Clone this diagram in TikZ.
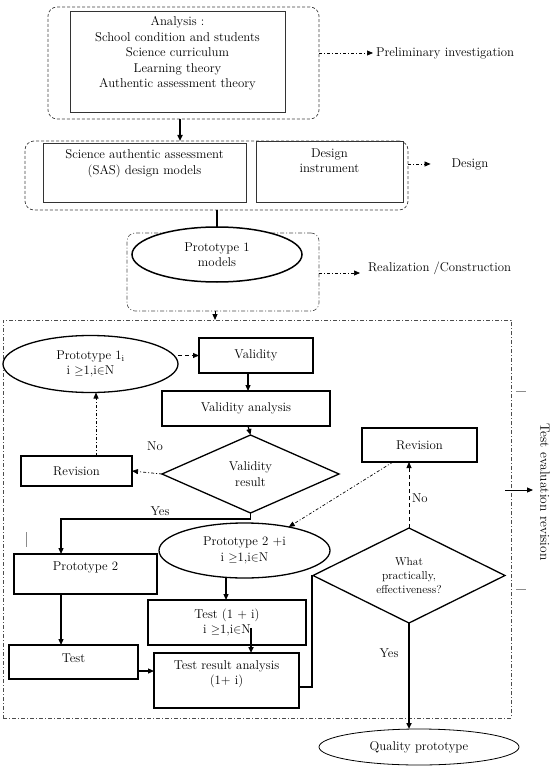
\documentclass[tikz,border=0pt]{standalone}
\usetikzlibrary{arrows.meta,shapes.geometric}
\begin{document}
\begin{tikzpicture}[x=1pt,y=-1pt,
  every node/.style={font=\fontsize{12.8}{15.5}\selectfont, inner sep=0pt, outer sep=0pt},
  txt/.style={align=center},
  gbox/.style={draw=black!80, line width=0.9pt},
  fbox/.style={draw, line width=1.3pt, fill=white},
  dbox/.style={draw=black!75, line width=0.7pt, dash pattern=on 3pt off 2pt, rounded corners=9pt},
  ddbox/.style={draw=black!70, line width=0.6pt, dash pattern=on 4pt off 2pt on 1pt off 2pt, rounded corners=8pt},
  dd/.style={line width=0.7pt, dash pattern=on 3pt off 2pt on 1pt off 2pt},
  dsh/.style={line width=0.8pt, dash pattern=on 4pt off 3pt},
  arr/.style={-{Triangle[length=6pt,width=5pt]}},
  solid1/.style={line width=1.2pt},
  elli/.style={ellipse, draw, fill=white}
]
\useasboundingbox (0,0) rectangle (559,767);

% ---- Preliminary investigation
\node[dbox, minimum width=271pt, minimum height=112pt] (anaO) at (183.5,63) {};
\node[gbox, minimum width=215pt, minimum height=101pt] (anaB) at (177.5,61.5) {};
\node[txt] (anaT) at (177.5,53.5) {Analysis :\\School condition and students\\Science curriculum\\Learning theory\\Authentic assessment theory};
\node[anchor=west] (prelim) at (376,53) {Preliminary investigation};
\draw[dd,arr] (anaO.east |- prelim.west) -- ([xshift=-3pt]prelim.west);

% ---- Design
\node[dbox, minimum width=383pt, minimum height=69pt] (desO) at (216.5,175.5) {};
\node[gbox, minimum width=203pt, minimum height=59pt] (sasB) at (144.5,172.5) {};
\node[txt] (sasT) at (144.5,163.5) {Science authentic assessment\\(SAS) design models};
\node[gbox, minimum width=147pt, minimum height=61pt] (diB) at (329.5,171.5) {};
\node[txt] (diT) at (329.5,160.5) {Design\\instrument};
\node (design) at (470,164) {Design};
\draw[dd,arr] (desO.east |- design.west) -- ([xshift=-21pt]design.west);
\draw[line width=1.8pt,arr] ([xshift=-3.5pt]anaO.south) -- ([xshift=-36.5pt]desO.north);

% ---- Realization
\node[ddbox, minimum width=192pt, minimum height=78pt] (p1O) at (223,272) {};
\node[elli, line width=1.5pt, minimum width=170pt, minimum height=55pt, txt] (P1) at (217,254.5) {Prototype 1\\models};
\draw[line width=2pt] (P1.north |- desO.south) -- (P1.north);
\node[anchor=west] (real) at (368,268) {Realization /Construction};
\draw[dd,arr] ([yshift=-1pt]p1O.east) -- ([xshift=-8pt,yshift=-5pt]real.west);

% ---- Test evaluation revision (big frame)
\node[draw=black!70, line width=0.6pt, dash pattern=on 4pt off 2pt on 1pt off 2pt, minimum width=508pt, minimum height=398pt] (tev) at (257,519) {};
\draw[line width=1pt,arr] ([xshift=-8pt]p1O.south) -- ([xshift=-42pt]tev.north);
\node[rotate=-90, font=\fontsize{13.5}{16}\selectfont] (tevT) at (545,492) {Test evaluation revision};
\coordinate (tevA) at ([xshift=-6pt,yshift=29pt]tev.east);
\coordinate (tevB) at ([xshift=22pt,yshift=29pt]tev.east);
\draw[line width=0.9pt,arr] (tevA) -- (tevB);
\draw[black!45, line width=0.6pt] (516,391) -- (526,391) (516,589) -- (526,589) (26,532) -- (26,547);

% ---- validity loop
\node[elli, line width=1.3pt, minimum width=175pt, minimum height=57pt, txt] (P1i) at (90.5,364) {Prototype 1\textsubscript{i}\\i $\geq$1,i$\in$N};
\node[fbox, minimum width=114pt, minimum height=35pt] (Val) at (256,355.5) {Validity};
\node[fbox, minimum width=168pt, minimum height=35pt] (VA) at (246,408.5) {Validity analysis};
\node[diamond, draw, line width=1.3pt, fill=white, aspect=2.27, minimum width=177pt, minimum height=78pt, txt] (VR) at (250.5,474) {Validity\\result};
\node[fbox, minimum width=111pt, minimum height=30pt] (Rev1) at (76.5,471) {Revision};
\draw[dsh,arr] (P1i.east |- Val.west) -- (Val.west);
\draw[solid1,arr] ([xshift=-8pt]Val.south) -- ([xshift=2pt]VA.north);
\draw[solid1,arr] ([xshift=2pt]VA.south) -- (VR.north);
\draw[dd,arr] (VR.west) -- (Rev1.east);
\draw[dd,arr] ([xshift=19.5pt]Rev1.north) -- ([xshift=19.5pt]Rev1.north |- P1i.south);
\node (no1) at (155,446) {No};
\node (yes1) at (160,511) {Yes};

% ---- second stage
\node[fbox, minimum width=143pt, minimum height=40pt] (P2) at (85.5,574) {};
\node (P2T) at (85.5,567) {Prototype 2};
\node[fbox, minimum width=129pt, minimum height=34pt] (Test) at (73.5,662) {};
\node (TestT) at (73.5,658) {Test};
\node[elli, line width=1.3pt, minimum width=171pt, minimum height=55pt, txt] (P2i) at (244.5,550.5) {Prototype 2 +i\\i $\geq$1,i$\in$N};
\node[fbox, minimum width=158pt, minimum height=45pt, txt] (T1i) at (227,622.5) {Test (1 + i)\\i $\geq$1,i$\in$N};
\node[fbox, minimum width=145pt, minimum height=55pt] (TRA) at (226.5,680.5) {};
\node[txt] (TRAT) at (226.5,674) {Test result analysis\\(1+ i)};
\draw[solid1,arr] (VR.south) -- ++(0,6) -| ([xshift=-24.5pt]P2.north);
\draw[solid1,arr] ([xshift=-24.5pt]P2.south) -- ([xshift=-24.5pt]P2.south |- Test.north);
\coordinate (tE) at ([yshift=-9pt]Test.east);
\draw[solid1,arr] (tE) -- (tE -| TRA.west);
\draw[solid1,arr] ([xshift=-18.5pt]P2i.south) -- ([xshift=-18.5pt]P2i.south |- T1i.north);
\draw[line width=1.8pt,arr] ([xshift=24pt,yshift=17pt]T1i.south) -- ([xshift=24.5pt]TRA.north);

% ---- effectiveness decision
\node[diamond, draw, line width=1.3pt, fill=white, aspect=2.02, minimum width=192pt, minimum height=95pt, txt, font=\fontsize{11.5}{13.8}\selectfont] (D2) at (409,575.5) {What\\practically,\\effectiveness?};
\node[fbox, minimum width=115pt, minimum height=34pt] (Rev2) at (419.5,445) {Revision};
\draw[solid1] ([yshift=-6.5pt]TRA.east) -- ++(13,0) |- (D2.west);
\draw[dsh,arr] (D2.north) -- (D2.north |- Rev2.south);
\node[anchor=west] (no2) at (412,498) {No};
\draw[dd,arr] ([xshift=-26.5pt]Rev2.south) -- (P2i.28);
\node[elli, line width=0.8pt, minimum width=200pt, minimum height=36pt] (Q) at (419,747) {Quality prototype};
\draw[line width=1.8pt,arr] (D2.south) -- (D2.south |- Q.north);
\node (yes2) at (389,653) {Yes};
\end{tikzpicture}
\end{document}
